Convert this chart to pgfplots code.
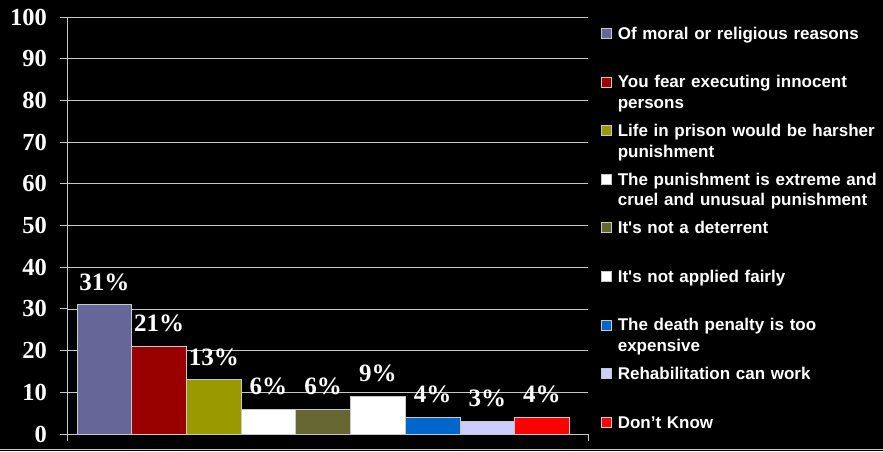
\documentclass[border=0pt]{standalone}
\usepackage{pgfplots}
\pgfplotsset{compat=1.18}
\usepackage{fontspec}
\setmainfont{Liberation Serif}
\newfontfamily\legfont{Liberation Sans}
\definecolor{c1}{RGB}{102,102,153}
\definecolor{c2}{RGB}{153,0,0}
\definecolor{c3}{RGB}{153,153,0}
\definecolor{c4}{RGB}{255,255,255}
\definecolor{c5}{RGB}{102,102,51}
\definecolor{c6}{RGB}{255,255,255}
\definecolor{c7}{RGB}{0,102,204}
\definecolor{c8}{RGB}{204,204,255}
\definecolor{c9}{RGB}{255,0,0}
\definecolor{gridc}{RGB}{200,200,200}
\pgfplotsset{
  mybar/.style={ybar, fill=#1, draw=gridc, line width=0.8pt, bar width=1, bar shift=0pt,
    every node near coord/.append style={anchor=base, yshift=14.5pt, inner sep=0pt, text=white,
      font=\bfseries\fontsize{25}{27}\selectfont},
    legend image code/.code={\draw[fill=#1, draw=gridc, line width=0.6pt] (0pt,1pt) rectangle (10pt,11pt);}},
}
\begin{document}
\begin{tikzpicture}
\fill[black] (0pt,0pt) rectangle (883pt,451pt);
\draw[gridc, line width=1pt] (0pt,2pt) -- (883pt,2pt);
\begin{axis}[
  at={(67pt,17pt)}, anchor=south west,
  scale only axis, width=521pt, height=417pt,
  xmin=-0.683, xmax=8.842, ymin=0, ymax=100,
  axis lines*=left,
  axis line style={gridc, line width=1pt},
  ytick={0,10,...,100},
  ymajorgrids, grid style={gridc, line width=0.8pt},
  xtick={-0.683,8.842}, xticklabels={},
  tick align=outside, major tick length=7pt,
  tick style={gridc, line width=1pt},
  /pgf/number format/assume math mode=true,
  yticklabel style={text=white, inner sep=0pt, font=\bfseries\fontsize{24.5}{26}\selectfont},
  yticklabel shift=13pt,
  clip=false,
  nodes near coords={\pgfmathprintnumber{\pgfplotspointmeta}\%},
  legend style={draw=none, fill=none, at={(1.025,0.978)}, anchor=north west,
    inner sep=0pt, row sep=0pt, column sep=6pt,
    cells={anchor=base west},
    nodes={inner sep=0pt, text=white, text width=275pt, align=left,
      text height=13pt, text depth=35.6pt,
      font=\legfont\bfseries\fontsize{17}{20.5}\selectfont}},
]
\addplot[mybar=c1] coordinates {(0,31)};
\addlegendentry{Of moral or religious reasons}
\addplot[mybar=c2] coordinates {(1,21)};
\addlegendentry{You fear executing innocent\\persons}
\addplot[mybar=c3] coordinates {(2,13)};
\addlegendentry{Life in prison would be harsher\\punishment}
\addplot[mybar=c4] coordinates {(3,6)};
\addlegendentry{The punishment is extreme and\\cruel and unusual punishment}
\addplot[mybar=c5] coordinates {(4,6)};
\addlegendentry{It\textquotesingle s not a deterrent}
\addplot[mybar=c6] coordinates {(5,9)};
\addlegendentry{It\textquotesingle s not applied fairly}
\addplot[mybar=c7] coordinates {(6,4)};
\addlegendentry{The death penalty is too\\expensive}
\addplot[mybar=c8] coordinates {(7,3)};
\addlegendentry{Rehabilitation can work}
\addplot[mybar=c9] coordinates {(8,4)};
\addlegendentry{Don’t Know}
\end{axis}
\pgfresetboundingbox
\path (0pt,0pt) rectangle (883pt,451pt);
\end{tikzpicture}
\end{document}
